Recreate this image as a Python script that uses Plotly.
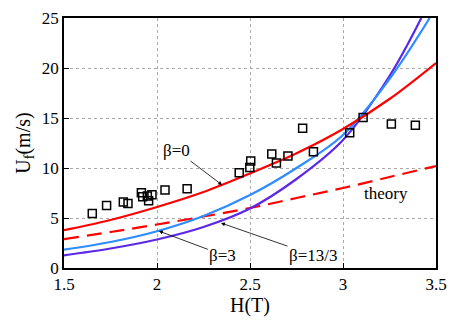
import plotly.graph_objects as go

# measured points
h_exp = [1.652, 1.729, 1.819, 1.844, 1.916, 1.923, 1.948, 1.955, 1.973, 2.043, 2.162,
         2.442, 2.499, 2.504, 2.617, 2.642, 2.704, 2.783, 2.841,
         3.036, 3.108, 3.260, 3.389]
u_exp = [5.45, 6.25, 6.59, 6.45, 7.52, 7.12, 7.19, 6.72, 7.32, 7.79, 7.92,
         9.52, 10.06, 10.7, 11.4, 10.5, 11.2, 13.97, 11.63,
         13.53, 15.04, 14.4, 14.27]

# curves
h_b0 = [1.5, 1.75, 2.0, 2.25, 2.5, 2.75, 3.0, 3.25, 3.5]
u_b0 = [3.78, 4.8, 6.1, 7.6, 9.46, 11.47, 13.9, 16.9, 20.5]

h_b3 = [1.5, 1.75, 2.0, 2.25, 2.5, 2.75, 3.0, 3.25, 3.466]
u_b3 = [1.84, 2.6, 3.68, 5.2, 7.29, 10.0, 13.3, 18.9, 25.0]

h_b13 = [1.5, 1.75, 2.0, 2.25, 2.5, 2.75, 3.0, 3.25, 3.421]
u_b13 = [1.27, 1.95, 2.85, 4.1, 5.95, 8.9, 12.8, 19.2, 25.0]

h_th = [1.5, 1.75, 2.0, 2.25, 2.5, 2.75, 3.0, 3.25, 3.5]
u_th = [2.88, 3.6, 4.35, 5.15, 6.0, 7.0, 8.0, 9.1, 10.2]

FONT = "Liberation Serif"
txt = dict(family=FONT, size=17, color="black")

fig = go.Figure()
fig.add_trace(go.Scatter(x=h_th, y=u_th, mode="lines", line=dict(color="#ff0000", width=2.2, dash="15px,8px", shape="spline")))
fig.add_trace(go.Scatter(x=h_b13, y=u_b13, mode="lines", line=dict(color="#5a28e6", width=2.2, shape="spline")))
fig.add_trace(go.Scatter(x=h_b3, y=u_b3, mode="lines", line=dict(color="#2d8cff", width=2.2, shape="spline")))
fig.add_trace(go.Scatter(x=h_b0, y=u_b0, mode="lines", line=dict(color="#ff0000", width=2.2, shape="spline")))
fig.add_trace(go.Scatter(x=h_exp, y=u_exp, mode="markers",
                         marker=dict(symbol="square-open", size=8, color="black", line=dict(width=1.5))))

# labels, arrow tip on the curve
fig.add_annotation(x=2.35, y=8.3, ax=-46, ay=-35, text="β=0", showarrow=True,
                   arrowhead=2, arrowsize=1, arrowwidth=0.8, arrowcolor="black")
fig.add_annotation(x=2.01, y=3.7, ax=64, ay=24, text="β=3", showarrow=True,
                   arrowhead=2, arrowsize=1, arrowwidth=0.8, arrowcolor="black")
fig.add_annotation(x=2.344, y=4.5, ax=92, ay=32, text="β=13/3", showarrow=True,
                   arrowhead=2, arrowsize=1, arrowwidth=0.8, arrowcolor="black")
fig.add_annotation(x=3.23, y=7.5, text="theory", showarrow=False)

fig.update_layout(
    width=457, height=329,
    margin=dict(l=64, r=21, t=18, b=61),
    paper_bgcolor="white", plot_bgcolor="white",
    showlegend=False,
    font=txt,
)
fig.update_xaxes(range=[1.5, 3.5], tickvals=[1.5, 2, 2.5, 3, 3.5], ticktext=["1.5", "2", "2.5", "3", "3.5"],
                 showgrid=True, gridcolor="#aaaaaa", griddash="dot", gridwidth=1,
                 showline=True, linecolor="black", linewidth=1.5, mirror=True,
                 ticks="inside", ticklen=5, tickcolor="black", automargin=False,
                 title=dict(text="H(T)", standoff=4), zeroline=False)
fig.update_yaxes(range=[0, 25], tickvals=[0, 5, 10, 15, 20, 25],
                 showgrid=True, gridcolor="#aaaaaa", griddash="dot", gridwidth=1,
                 showline=True, linecolor="black", linewidth=1.5, mirror=True,
                 ticks="inside", ticklen=5, tickcolor="black", automargin=False,
                 title=dict(text="U<sub>f</sub>(m/s)", standoff=6), zeroline=False)

# page body has a default 8px margin; drop it so the figure sits at the corner
fig.write_html("out.html", config={"displayModeBar": False},
               post_script="document.body.style.margin='0';")
